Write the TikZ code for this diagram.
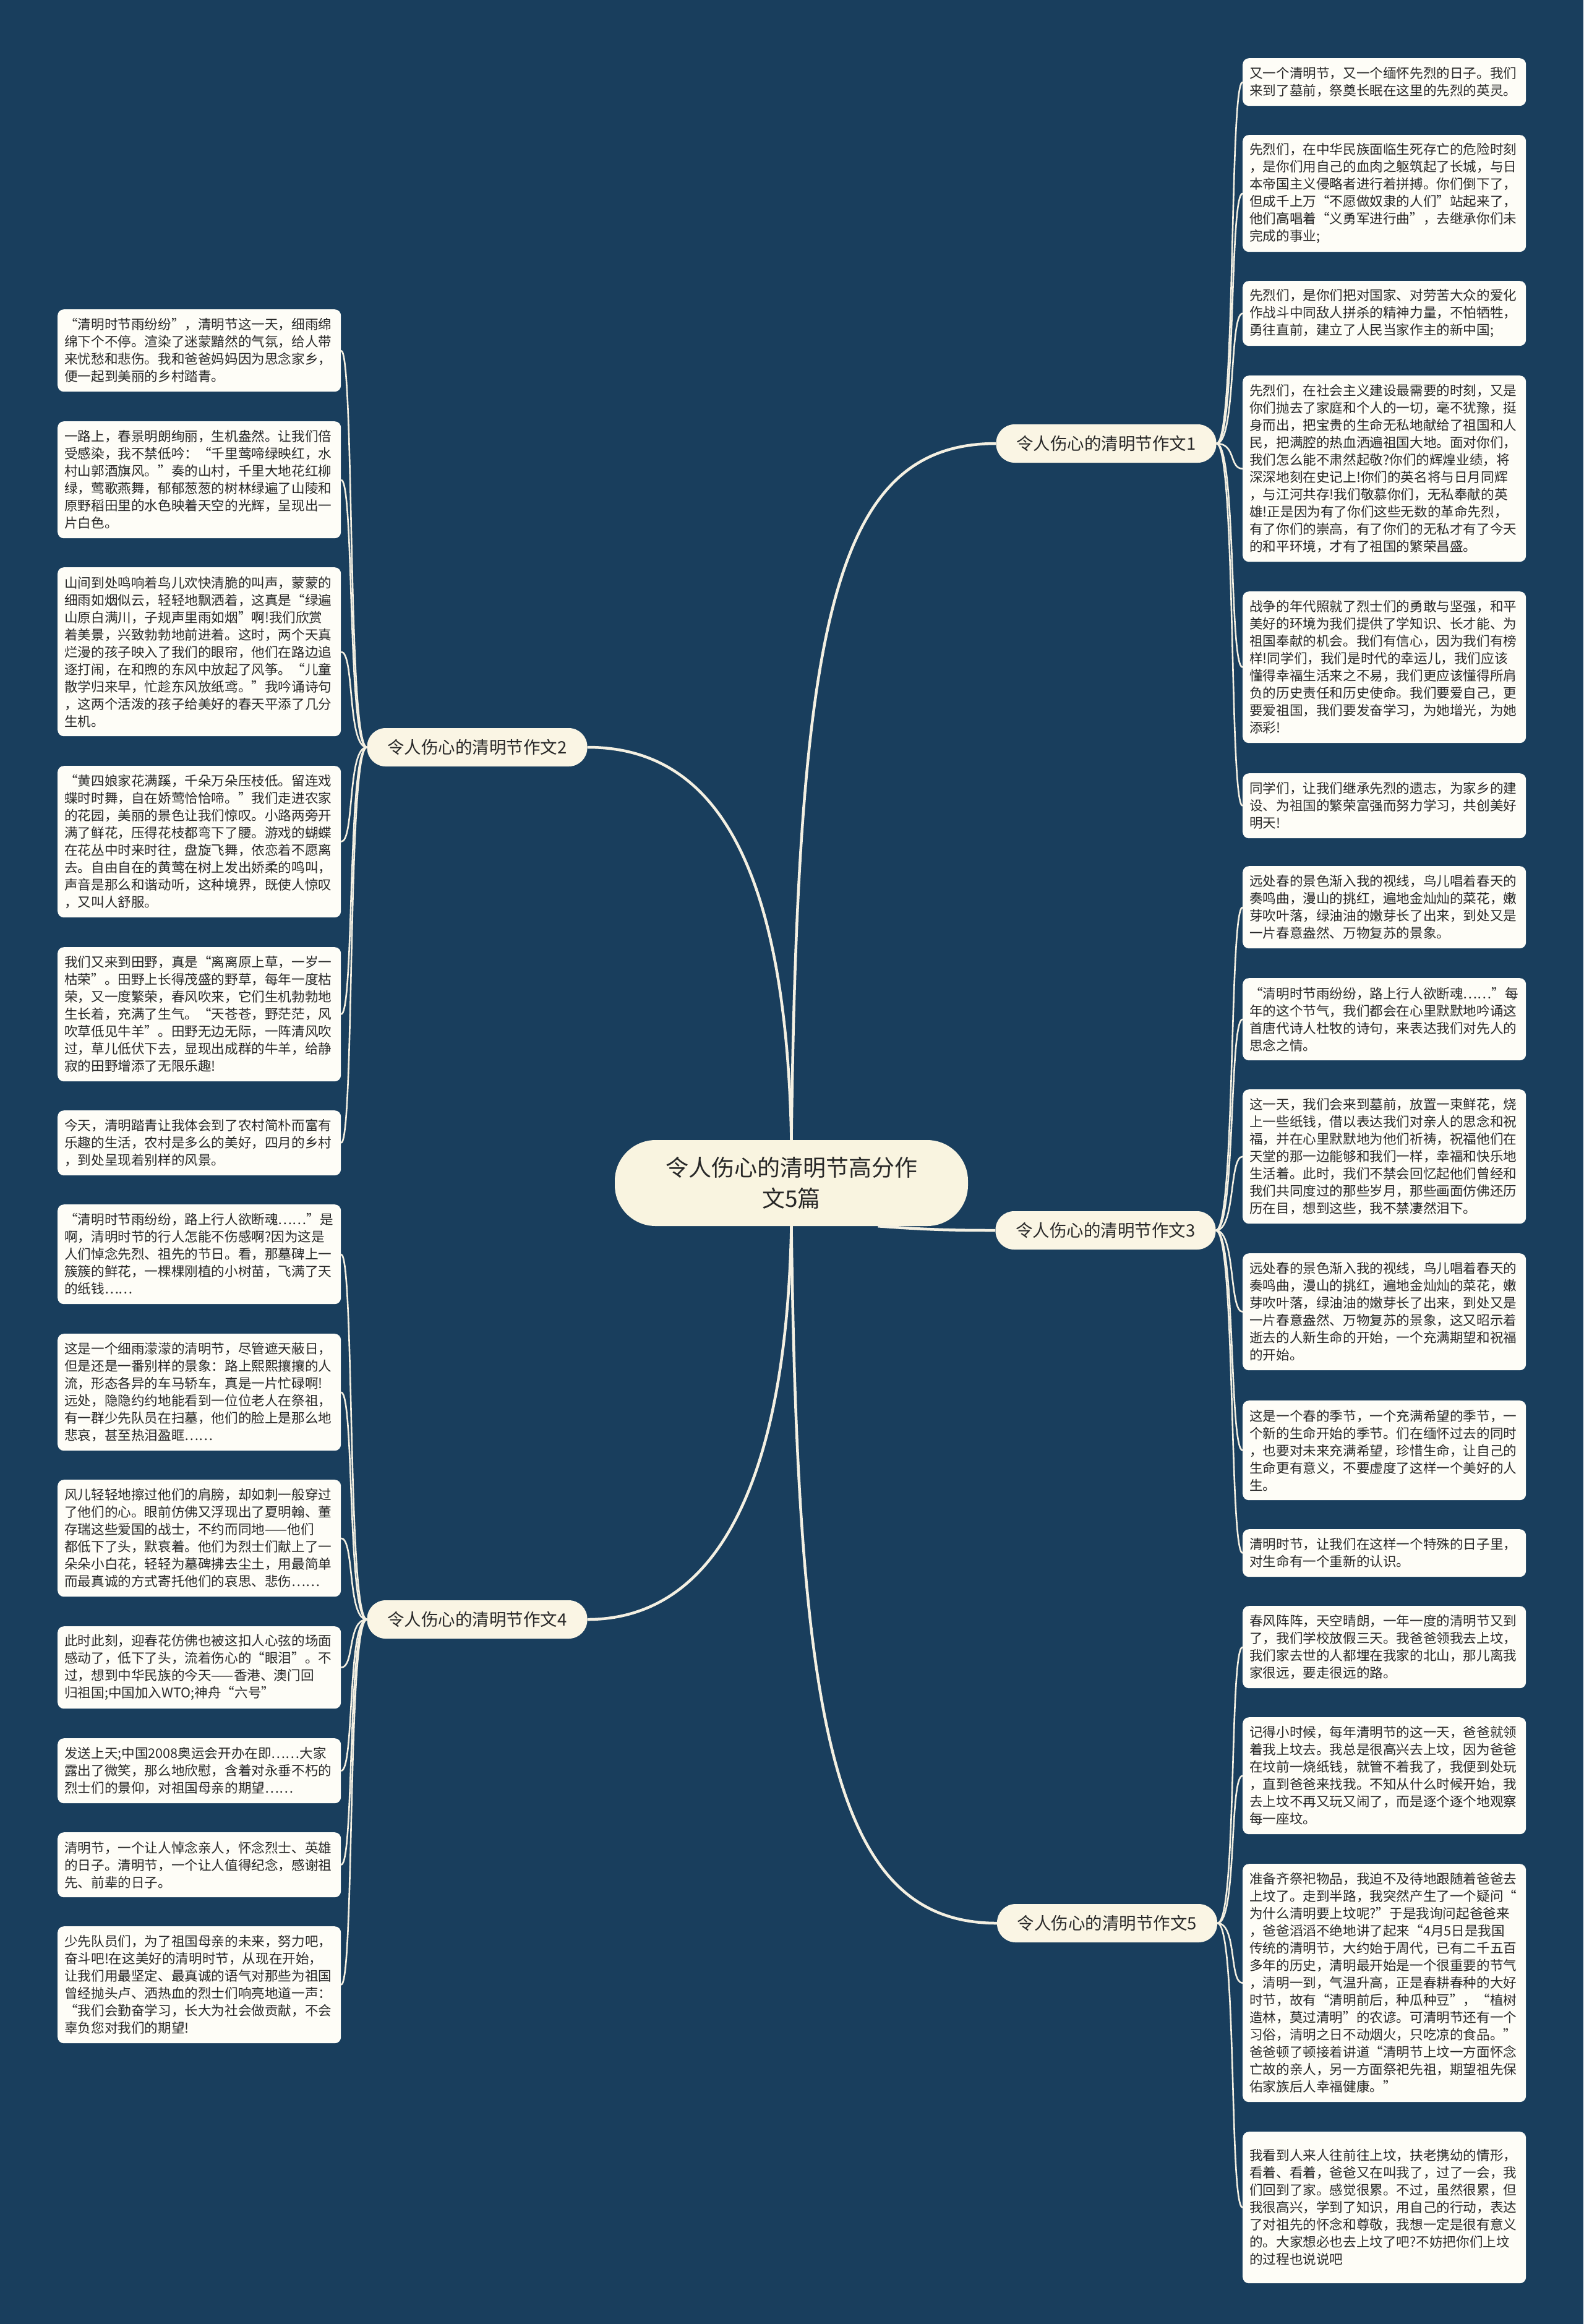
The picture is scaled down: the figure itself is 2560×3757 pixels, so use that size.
\documentclass[tikz,border=0pt]{standalone}
\usepackage{fontspec}
\setmainfont{Noto Sans CJK SC}
\definecolor{bgc}{RGB}{25,62,93}
\definecolor{rootc}{RGB}{249,244,224}
\definecolor{brc}{RGB}{250,245,228}
\definecolor{leafc}{RGB}{254,253,247}
\definecolor{linec}{RGB}{244,240,226}
\definecolor{txt}{RGB}{40,40,40}
\newcommand\lf[5]{\node[leaf, minimum height={#4*28pt+21pt}] (#1) at (#2,#3) {#5};}
\newcommand\rlink[2]{\draw[leaflink] (#1.east) .. controls +(32,0) and +(-22,0) .. (#2.west);}
\newcommand\llink[2]{\draw[leaflink] (#1.west) .. controls +(-32,0) and +(22,0) .. (#2.east);}
\begin{document}
\begin{tikzpicture}[x=1pt,y=-1pt,
  leaf/.style={fill=leafc, rounded corners=10pt, text=txt, font=\fontsize{21.6}{28}\selectfont, text width=436pt, inner xsep=11pt, inner ysep=0pt, align=left, anchor=north west},
  branch/.style={fill=brc, rounded corners=30pt, minimum width=356pt, minimum height=62pt, font=\fontsize{27.5}{33}\selectfont, text=txt, inner sep=0pt},
  root/.style={fill=rootc, rounded corners=66pt, minimum width=571pt, minimum height=139pt, font=\fontsize{37}{50}\selectfont, align=center, text=txt},
  link/.style={draw=linec, line width=4.5pt},
  leaflink/.style={draw=linec, line width=2.6pt}]
\fill[bgc] (0,0) rectangle (2560,3757);
\useasboundingbox (0,0) rectangle (2560,3757);

% root and branches
\node[root] (root) at (1279.5,1912.5) {令人伤心的清明节高分作\\文5篇};
\node[branch] (b1) at (1788.5,717) {令人伤心的清明节作文1};
\node[branch] (b2) at (771.5,1208) {令人伤心的清明节作文2};
\node[branch] (b3) at (1787.5,1989) {令人伤心的清明节作文3};
\node[branch] (b4) at (771.5,2618) {令人伤心的清明节作文4};
\node[branch] (b5) at (1790,3109) {令人伤心的清明节作文5};

% right leaves, branch 1
\lf{r1}{2009}{94}{2}{又一个清明节，又一个缅怀先烈的日子。我们\\来到了墓前，祭奠长眠在这里的先烈的英灵。}
\lf{r2}{2009}{218}{6}{先烈们，在中华民族面临生死存亡的危险时刻\\，是你们用自己的血肉之躯筑起了长城，与日\\本帝国主义侵略者进行着拼搏。你们倒下了，\\但成千上万“不愿做奴隶的人们”站起来了，\\他们高唱着“义勇军进行曲”，去继承你们未\\完成的事业;}
\lf{r3}{2009}{454}{3}{先烈们，是你们把对国家、对劳苦大众的爱化\\作战斗中同敌人拼杀的精神力量，不怕牺牲，\\勇往直前，建立了人民当家作主的新中国;}
\lf{r4}{2009}{607}{10}{先烈们，在社会主义建设最需要的时刻，又是\\你们抛去了家庭和个人的一切，毫不犹豫，挺\\身而出，把宝贵的生命无私地献给了祖国和人\\民，把满腔的热血洒遍祖国大地。面对你们，\\我们怎么能不肃然起敬?你们的辉煌业绩，将\\深深地刻在史记上!你们的英名将与日月同辉\\，与江河共存!我们敬慕你们，无私奉献的英\\雄!正是因为有了你们这些无数的革命先烈，\\有了你们的崇高，有了你们的无私才有了今天\\的和平环境，才有了祖国的繁荣昌盛。}
\lf{r5}{2009}{956}{8}{战争的年代照就了烈士们的勇敢与坚强，和平\\美好的环境为我们提供了学知识、长才能、为\\祖国奉献的机会。我们有信心，因为我们有榜\\样!同学们，我们是时代的幸运儿，我们应该\\懂得幸福生活来之不易，我们更应该懂得所肩\\负的历史责任和历史使命。我们要爱自己，更\\要爱祖国，我们要发奋学习，为她增光，为她\\添彩!}
\lf{r6}{2009}{1250}{3}{同学们，让我们继承先烈的遗志，为家乡的建\\设、为祖国的繁荣富强而努力学习，共创美好\\明天!}

% right leaves, branch 3
\lf{r7}{2009}{1400}{4}{远处春的景色渐入我的视线，鸟儿唱着春天的\\奏鸣曲，漫山的挑红，遍地金灿灿的菜花，嫩\\芽吹叶落，绿油油的嫩芽长了出来，到处又是\\一片春意盎然、万物复苏的景象。}
\lf{r8}{2009}{1581}{4}{“清明时节雨纷纷，路上行人欲断魂……”每\\年的这个节气，我们都会在心里默默地吟诵这\\首唐代诗人杜牧的诗句，来表达我们对先人的\\思念之情。}
\lf{r9}{2009}{1761}{7}{这一天，我们会来到墓前，放置一束鲜花，烧\\上一些纸钱，借以表达我们对亲人的思念和祝\\福，并在心里默默地为他们祈祷，祝福他们在\\天堂的那一边能够和我们一样，幸福和快乐地\\生活着。此时，我们不禁会回忆起他们曾经和\\我们共同度过的那些岁月，那些画面仿佛还历\\历在目，想到这些，我不禁凄然泪下。}
\lf{r10}{2009}{2026}{6}{远处春的景色渐入我的视线，鸟儿唱着春天的\\奏鸣曲，漫山的挑红，遍地金灿灿的菜花，嫩\\芽吹叶落，绿油油的嫩芽长了出来，到处又是\\一片春意盎然、万物复苏的景象，这又昭示着\\逝去的人新生命的开始，一个充满期望和祝福\\的开始。}
\lf{r11}{2009}{2264}{5}{这是一个春的季节，一个充满希望的季节，一\\个新的生命开始的季节。们在缅怀过去的同时\\，也要对未来充满希望，珍惜生命，让自己的\\生命更有意义，不要虚度了这样一个美好的人\\生。}
\lf{r12}{2009}{2472}{2}{清明时节，让我们在这样一个特殊的日子里，\\对生命有一个重新的认识。}

% right leaves, branch 5
\lf{r13}{2009}{2596}{4}{春风阵阵，天空晴朗，一年一度的清明节又到\\了，我们学校放假三天。我爸爸领我去上坟，\\我们家去世的人都埋在我家的北山，那儿离我\\家很远，要走很远的路。}
\lf{r14}{2009}{2776}{6}{记得小时候，每年清明节的这一天，爸爸就领\\着我上坟去。我总是很高兴去上坟，因为爸爸\\在坟前一烧纸钱，就管不着我了，我便到处玩\\，直到爸爸来找我。不知从什么时候开始，我\\去上坟不再又玩又闹了，而是逐个逐个地观察\\每一座坟。}
\lf{r15}{2009}{3013}{13}{准备齐祭祀物品，我迫不及待地跟随着爸爸去\\上坟了。走到半路，我突然产生了一个疑问“\\为什么清明要上坟呢?”于是我询问起爸爸来\\，爸爸滔滔不绝地讲了起来“4月5日是我国\\传统的清明节，大约始于周代，已有二千五百\\多年的历史，清明最开始是一个很重要的节气\\，清明一到，气温升高，正是春耕春种的大好\\时节，故有“清明前后，种瓜种豆”，“植树\\造林，莫过清明”的农谚。可清明节还有一个\\习俗，清明之日不动烟火，只吃凉的食品。”\\爸爸顿了顿接着讲道“清明节上坟一方面怀念\\亡故的亲人，另一方面祭祀先祖，期望祖先保\\佑家族后人幸福健康。”}
\lf{r16}{2009}{3446}{8}{我看到人来人往前往上坟，扶老携幼的情形，\\看着、看着，爸爸又在叫我了，过了一会，我\\们回到了家。感觉很累。不过，虽然很累，但\\我很高兴，学到了知识，用自己的行动，表达\\了对祖先的怀念和尊敬，我想一定是很有意义\\的。大家想必也去上坟了吧?不妨把你们上坟\\的过程也说说吧}

% left leaves, branch 2
\lf{l1}{93}{500}{4}{“清明时节雨纷纷”，清明节这一天，细雨绵\\绵下个不停。渲染了迷蒙黯然的气氛，给人带\\来忧愁和悲伤。我和爸爸妈妈因为思念家乡，\\便一起到美丽的乡村踏青。}
\lf{l2}{93}{681}{6}{一路上，春景明朗绚丽，生机盎然。让我们倍\\受感染，我不禁低吟：“千里莺啼绿映红，水\\村山郭酒旗风。”奏的山村，千里大地花红柳\\绿，莺歌燕舞，郁郁葱葱的树林绿遍了山陵和\\原野稻田里的水色映着天空的光辉，呈现出一\\片白色。}
\lf{l3}{93}{917}{9}{山间到处鸣响着鸟儿欢快清脆的叫声，蒙蒙的\\细雨如烟似云，轻轻地飘洒着，这真是“绿遍\\山原白满川，子规声里雨如烟”啊!我们欣赏\\着美景，兴致勃勃地前进着。这时，两个天真\\烂漫的孩子映入了我们的眼帘，他们在路边追\\逐打闹，在和煦的东风中放起了风筝。“儿童\\散学归来早，忙趁东风放纸鸢。”我吟诵诗句\\，这两个活泼的孩子给美好的春天平添了几分\\生机。}
\lf{l4}{93}{1238}{8}{“黄四娘家花满蹊，千朵万朵压枝低。留连戏\\蝶时时舞，自在娇莺恰恰啼。”我们走进农家\\的花园，美丽的景色让我们惊叹。小路两旁开\\满了鲜花，压得花枝都弯下了腰。游戏的蝴蝶\\在花丛中时来时往，盘旋飞舞，依恋着不愿离\\去。自由自在的黄莺在树上发出娇柔的鸣叫，\\声音是那么和谐动听，这种境界，既使人惊叹\\，又叫人舒服。}
\lf{l5}{93}{1531}{7}{我们又来到田野，真是“离离原上草，一岁一\\枯荣”。田野上长得茂盛的野草，每年一度枯\\荣，又一度繁荣，春风吹来，它们生机勃勃地\\生长着，充满了生气。“天苍苍，野茫茫，风\\吹草低见牛羊”。田野无边无际，一阵清风吹\\过，草儿低伏下去，显现出成群的牛羊，给静\\寂的田野增添了无限乐趣!}
\lf{l6}{93}{1795}{3}{今天，清明踏青让我体会到了农村简朴而富有\\乐趣的生活，农村是多么的美好，四月的乡村\\，到处呈现着别样的风景。}

% left leaves, branch 4
\lf{l7}{93}{1947}{5}{“清明时节雨纷纷，路上行人欲断魂……”是\\啊，清明时节的行人怎能不伤感啊?因为这是\\人们悼念先烈、祖先的节日。看，那墓碑上一\\簇簇的鲜花，一棵棵刚植的小树苗，飞满了天\\的纸钱……}
\lf{l8}{93}{2156}{6}{这是一个细雨濛濛的清明节，尽管遮天蔽日，\\但是还是一番别样的景象：路上熙熙攘攘的人\\流，形态各异的车马轿车，真是一片忙碌啊!\\远处，隐隐约约地能看到一位位老人在祭祖，\\有一群少先队员在扫墓，他们的脸上是那么地\\悲哀，甚至热泪盈眶……}
\lf{l9}{93}{2392}{6}{风儿轻轻地擦过他们的肩膀，却如刺一般穿过\\了他们的心。眼前仿佛又浮现出了夏明翰、董\\存瑞这些爱国的战士，不约而同地——他们\\都低下了头，默哀着。他们为烈士们献上了一\\朵朵小白花，轻轻为墓碑拂去尘土，用最简单\\而最真诚的方式寄托他们的哀思、悲伤……}
\lf{l10}{93}{2629}{4}{此时此刻，迎春花仿佛也被这扣人心弦的场面\\感动了，低下了头，流着伤心的“眼泪”。不\\过，想到中华民族的今天——香港、澳门回\\归祖国;中国加入WTO;神舟“六号”}
\lf{l11}{93}{2810}{3}{发送上天;中国2008奥运会开办在即……大家\\露出了微笑，那么地欣慰，含着对永垂不朽的\\烈士们的景仰，对祖国母亲的期望……}
\lf{l12}{93}{2962}{3}{清明节，一个让人悼念亲人，怀念烈士、英雄\\的日子。清明节，一个让人值得纪念，感谢祖\\先、前辈的日子。}
\lf{l13}{93}{3114}{6}{少先队员们，为了祖国母亲的未来，努力吧，\\奋斗吧!在这美好的清明时节，从现在开始，\\让我们用最坚定、最真诚的语气对那些为祖国\\曾经抛头卢、洒热血的烈士们响亮地道一声：\\“我们会勤奋学习，长大为社会做贡献，不会\\辜负您对我们的期望!}

% root to branch connectors
\draw[link] (root.north) .. controls (1290,1000) and (1350,717) .. (b1.west);
\draw[link] (root.north) .. controls (1270,1350) and (1130,1208) .. (b2.east);
\draw[link] ([xshift=140pt]root.south) .. controls (1500,1988) and (1540,1989) .. (b3.west);
\draw[link] (root.south) .. controls (1270,2450) and (1130,2618) .. (b4.east);
\draw[link] (root.south) .. controls (1290,2800) and (1350,3109) .. (b5.west);

% branch to leaf connectors
\foreach \l in {r1,r2,r3,r4,r5,r6} {\rlink{b1}{\l}}
\foreach \l in {r7,r8,r9,r10,r11,r12} {\rlink{b3}{\l}}
\foreach \l in {r13,r14,r15,r16} {\rlink{b5}{\l}}
\foreach \l in {l1,l2,l3,l4,l5,l6} {\llink{b2}{\l}}
\foreach \l in {l7,l8,l9,l10,l11,l12,l13} {\llink{b4}{\l}}
\end{tikzpicture}
\end{document}
